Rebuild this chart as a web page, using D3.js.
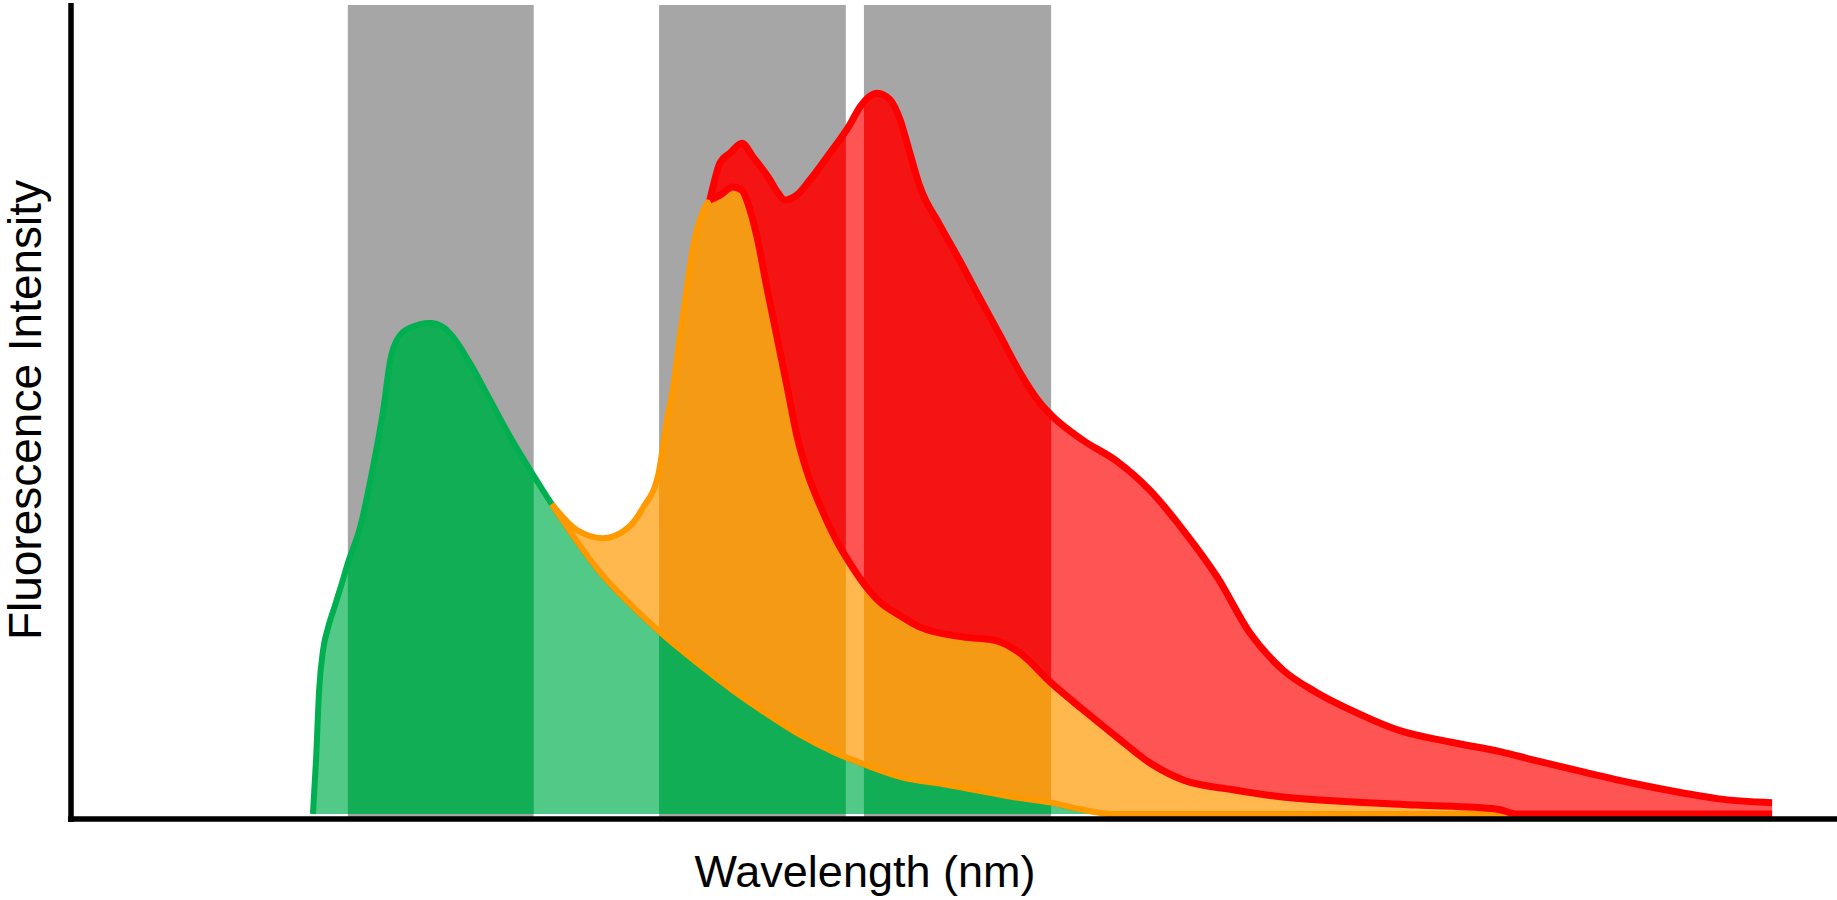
<!DOCTYPE html>
<html>
<head>
<meta charset="utf-8">
<script src="https://cdn.jsdelivr.net/npm/d3@7"></script>
<style>
  body { margin: 0; background: #fff; }
  text { font-family: "Liberation Sans", Arial, sans-serif; fill: #000; }
</style>
</head>
<body>
<div id="chart"></div>
<script>
// filter pass bands (nm)
var filterBands = [[502.7, 544.8], [573.2, 615.5], [619.6, 662.0]];

// outline of each stacked emission layer: [wavelength nm, intensity]
var greenEdge = [
    [494.8, 0], [495.5, 6.7], [496.2, 15.3], [497.1, 20.3], [498.2, 23.0], [499.8, 25.8],
    [501.4, 28.6], [502.7, 31.0], [505.5, 35.5], [508.4, 42.9], [510.7, 49.9], [512.3, 56.1],
    [513.8, 58.6], [516.8, 60.1], [521.3, 60.7], [524.3, 60.2], [526.5, 59.0], [530.4, 55.7],
    [534.9, 51.2], [539.4, 46.7], [544.6, 42.0], [548.9, 38.3], [554.6, 33.7], [559.8, 29.9],
    [567.3, 25.6], [573.4, 22.5], [582.5, 18.4], [589.9, 15.3], [597.6, 12.4], [605.1, 9.8],
    [612.6, 7.7], [620.3, 6.0], [627.8, 4.6], [638.4, 3.6], [653.4, 2.1], [662.0, 1.4],
    [668.5, 0.6], [676.0, 0]
];

var orangeEdge = [
    [548.9, 38.3], [554.6, 35.1], [560.5, 34.1], [566.2, 35.4], [569.6, 37.9], [573.0, 41.9],
    [575.0, 48.7], [576.4, 52.8], [577.9, 59.0], [579.5, 65.1], [580.9, 70.1], [583.1, 74.4],
    [584.7, 75.9], [587.0, 76.5], [589.9, 77.5], [592.0, 77.1], [593.3, 75.5], [595.4, 71.3],
    [597.6, 65.1], [599.9, 59.0], [602.2, 52.8], [604.4, 46.8], [606.7, 42.3], [609.6, 38.2],
    [613.0, 34.2], [616.4, 31.0], [619.8, 28.3], [623.2, 26.2], [627.8, 24.5], [632.3, 23.1],
    [642.0, 21.9], [649.7, 21.4], [654.9, 19.9], [662.0, 16.2], [669.2, 12.9], [676.9, 9.5],
    [684.4, 6.3], [691.9, 4.2], [703.2, 3.0], [714.5, 2.1], [729.7, 1.5], [744.9, 1.1],
    [763.0, 0.6], [767.5, 0]
];

var redEdge = [
    [584.7, 75.9], [585.4, 77.5], [587.0, 80.5], [589.3, 81.7], [592.0, 82.9], [594.5, 81.2],
    [598.3, 78.4], [600.1, 76.8], [601.7, 75.9], [604.4, 76.5], [607.4, 78.4], [611.9, 81.7],
    [616.4, 85.2], [618.7, 87.4], [622.6, 89.1], [625.5, 88.3], [627.8, 85.8], [630.0, 81.7],
    [632.3, 77.5], [636.8, 72.8], [641.4, 68.3], [645.9, 63.7], [650.4, 59.2], [654.9, 54.6],
    [659.5, 50.8], [662.4, 49.1], [669.2, 46.2], [676.9, 43.6], [684.4, 40.0], [691.9, 35.1],
    [699.6, 29.3], [707.0, 22.4], [714.5, 17.8], [722.2, 15.0], [729.7, 12.9], [741.0, 10.3],
    [752.3, 8.9], [763.7, 7.7], [771.1, 6.7], [782.5, 5.2], [793.8, 3.8], [805.1, 2.6],
    [812.8, 1.9], [825.3, 1.4]
];

var layerColors = {
    green:  {stroke: "#00b050", dark: "#12ae56", light: "#52c987", width: 6},
    orange: {stroke: "#ff9900", dark: "#f59a14", light: "#ffb84d", width: 6},
    red:    {stroke: "#ff0000", dark: "#f41414", light: "#ff5454", width: 7}
};

var width = 1837, height = 900;

var x = d3.scaleLinear().domain([440, 840]).range([71, 1837]);
var y = d3.scaleLinear().domain([0, 100]).range([814, 5]);

var svg = d3.select("#chart").append("svg")
    .attr("width", width)
    .attr("height", height);

// clip to the filter bands, used for the darker fill
svg.append("defs").append("clipPath")
    .attr("id", "bandclip")
    .selectAll("rect")
    .data(filterBands)
    .enter().append("rect")
    .attr("x", function(d) { return x(d[0]); })
    .attr("y", 0)
    .attr("width", function(d) { return x(d[1]) - x(d[0]); })
    .attr("height", 819);

svg.append("g").selectAll("rect")
    .data(filterBands)
    .enter().append("rect")
    .attr("x", function(d) { return x(d[0]); })
    .attr("y", y(100))
    .attr("width", function(d) { return x(d[1]) - x(d[0]); })
    .attr("height", 819 - y(100))
    .attr("fill", "#a6a6a6");

var line = d3.line()
    .x(function(d) { return x(d[0]); })
    .y(function(d) { return y(d[1]); })
    .curve(d3.curveMonotoneX);

//lower edge of a layer = top of the layer below, then baseline
function lowerEdge(upper, below) {
    var start = upper[0], end = upper[upper.length - 1];
    var pts = [start].concat(below.filter(function(d) { return d[0] > start[0]; }));
    var last = pts[pts.length - 1];
    if (last[0] < end[0]) pts.push([end[0], 0]);
    return pts;
}

function drawLayer(name, upper, lower) {
    var c = layerColors[name];
    var back = line(lower.slice().reverse()).replace(/^M/, "L");
    var shape = line(upper) + back + "Z";
    var g = svg.append("g").attr("class", "layer " + name);

    g.append("path").attr("d", shape).attr("fill", c.light);
    g.append("path").attr("d", shape).attr("fill", c.dark).attr("clip-path", "url(#bandclip)");

    g.append("path").attr("d", line(upper))
        .attr("fill", "none").attr("stroke", c.stroke)
        .attr("stroke-width", c.width).attr("stroke-linejoin", "round");
    if (lower.length > 2) {
        g.append("path").attr("d", line(lower))
            .attr("fill", "none").attr("stroke", c.stroke)
            .attr("stroke-width", c.width).attr("stroke-linejoin", "round");
    }
}

drawLayer("green", greenEdge, [greenEdge[0], greenEdge[greenEdge.length - 1]]);
drawLayer("orange", orangeEdge, lowerEdge(orangeEdge, greenEdge));
drawLayer("red", redEdge, lowerEdge(redEdge, orangeEdge));

// axes
svg.append("line")
    .attr("x1", 71).attr("x2", 71)
    .attr("y1", 3).attr("y2", 822)
    .attr("stroke", "#000").attr("stroke-width", 5.5);
svg.append("line")
    .attr("x1", 68).attr("x2", width)
    .attr("y1", 819).attr("y2", 819)
    .attr("stroke", "#000").attr("stroke-width", 5.5);

svg.append("text")
    .attr("x", 865).attr("y", 887)
    .attr("text-anchor", "middle")
    .style("font-size", "45px")
    .text("Wavelength (nm)");

svg.append("text")
    .attr("transform", "translate(41,410) rotate(-90)")
    .attr("text-anchor", "middle")
    .style("font-size", "46px")
    .text("Fluorescence Intensity");
</script>
</body>
</html>
